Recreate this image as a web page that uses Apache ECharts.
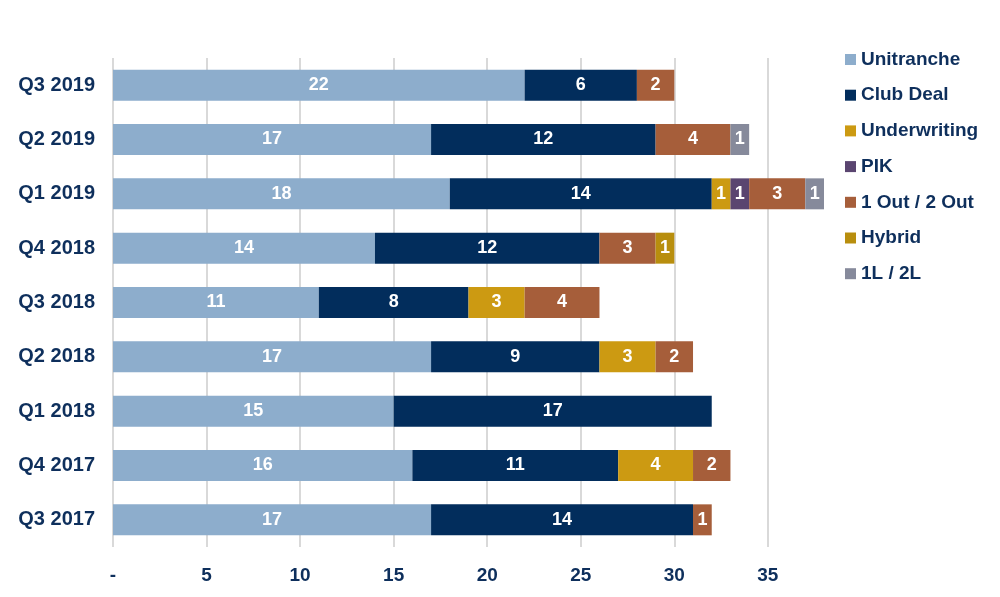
<!DOCTYPE html>
<html>
    <head>
        <meta charset="utf-8">
        <script src="https://cdn.jsdelivr.net/npm/echarts@6/dist/echarts.min.js"></script>
        <style>
            html, body { margin: 0; padding: 0; background: #fff; }
            #main { width: 1000px; height: 597px; }
        </style>
    </head>
    <body>
        <div id="main"></div>
        <script>
            // quarters, bottom to top
            var quarters = ['Q3 2017', 'Q4 2017', 'Q1 2018', 'Q2 2018', 'Q3 2018', 'Q4 2018', 'Q1 2019', 'Q2 2019', 'Q3 2019'];

            var unitranche   = [17, 16, 15, 17, 11, 14, 18, 17, 22];
            var clubDeal     = [14, 11, 17, 9, 8, 12, 14, 12, 6];
            var underwriting = [null, 4, null, 3, 3, null, 1, null, null];
            var pik          = [null, null, null, null, null, null, 1, null, null];
            var outOut       = [1, 2, null, 2, 4, 3, 3, 4, 2];
            var hybrid       = [null, null, null, null, null, 1, null, null, null];
            var lien         = [null, null, null, null, null, null, 1, 1, null];

            var navy = '#0E2F5C';
            var font = '"Liberation Sans", Arial, sans-serif';

            var chart = echarts.init(document.getElementById('main'));

            function bar(name, data, color) {
                return {
                    name: name,
                    type: 'bar',
                    stack: 'deals',
                    data: data,
                    barWidth: '57%',
                    itemStyle: { color: color },
                    label: {
                        show: true,
                        position: 'inside',
                        color: '#fff',
                        fontFamily: font,
                        fontWeight: 'bold',
                        fontSize: 18
                    }
                };
            }

            chart.setOption({
                animation: false,
                textStyle: { fontFamily: font },
                legend: {
                    orient: 'vertical',
                    left: 840,
                    top: 45,
                    itemWidth: 11,
                    itemHeight: 11,
                    itemGap: 16.7,
                    icon: 'rect',
                    textStyle: {
                        color: navy,
                        fontFamily: font,
                        fontWeight: 'bold',
                        fontSize: 19
                    }
                },
                grid: {
                    left: 113,
                    right: 176,
                    top: 58,
                    bottom: 50
                },
                xAxis: {
                    type: 'value',
                    min: 0,
                    max: 38,
                    interval: 5,
                    axisLine: { show: false },
                    axisTick: { show: false },
                    splitLine: {
                        show: true,
                        showMaxLine: false,
                        lineStyle: { color: '#D9D9D9', width: 2 }
                    },
                    axisLabel: {
                        showMaxLabel: false,
                        margin: 19,
                        color: navy,
                        fontFamily: font,
                        fontWeight: 'bold',
                        fontSize: 19,
                        formatter: function (v) {
                            return v === 0 ? '-' : v;
                        }
                    }
                },
                yAxis: {
                    type: 'category',
                    data: quarters,
                    axisLine: { show: false },
                    axisTick: { show: false },
                    axisLabel: {
                        margin: 18,
                        color: navy,
                        fontFamily: font,
                        fontWeight: 'bold',
                        fontSize: 20
                    }
                },
                series: [
                    bar('Unitranche', unitranche, '#8DADCC'),
                    bar('Club Deal', clubDeal, '#022D5C'),
                    bar('Underwriting', underwriting, '#CC9A12'),
                    bar('PIK', pik, '#5A4570'),
                    bar('1 Out / 2 Out', outOut, '#A65E3A'),
                    bar('Hybrid', hybrid, '#B88E0E'),
                    bar('1L / 2L', lien, '#868A9B')
                ]
            });
        </script>
    </body>
</html>
